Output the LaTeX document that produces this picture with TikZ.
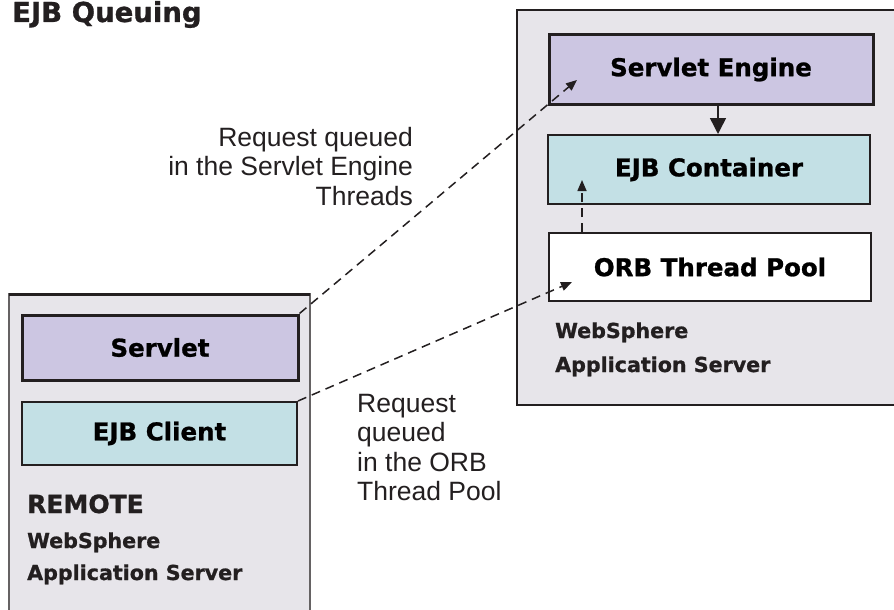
\documentclass[tikz,border=0pt]{standalone}
\usepackage{fontspec}
\setmainfont{Liberation Sans}
\newfontfamily\heavyfont[FakeBold=1]{DejaVu Sans Bold}
\usetikzlibrary{arrows.meta}

\definecolor{servergray}{HTML}{E7E5EA}
\definecolor{servletpurple}{HTML}{CCC6E2}
\definecolor{ejbcyan}{HTML}{C3E0E5}
\definecolor{inkgray}{HTML}{231F20}

\newcommand{\boxfont}{\heavyfont\fontsize{24.5}{24.5}\selectfont}
\newcommand{\smallbold}{\heavyfont\fontsize{20.6}{20.6}\selectfont}
\newcommand{\notefont}{\fontsize{26.5}{29.5}\selectfont}

\begin{document}
\begin{tikzpicture}[x=1pt,y=-1pt]

      \useasboundingbox (0,0) rectangle (894,610);

      % the two servers
      \begin{scope}
        \clip (0,0) rectangle (894,610);
        \fill[servergray] (9,294) rectangle (310,620);
        \draw[inkgray!70,line width=1.5pt] (9,620) -- (9,294) -- (310,294) -- (310,620);
        \draw[inkgray,line width=3pt] (9,294) -- (310,294);
        \draw[inkgray,line width=2pt,fill=servergray] (517,10) rectangle (900,405);
      \end{scope}

      \begin{scope}[every node/.style={rectangle,draw=inkgray,line width=2pt,font=\boxfont}]
        \node[fill=servletpurple,line width=3pt,minimum width=276pt,minimum height=65pt] (servlet) at (160,347.5) {Servlet};
        \node[fill=ejbcyan,minimum width=275pt,minimum height=63pt] (client) at (159.5,433.5) {EJB Client};
        \node[fill=servletpurple,line width=3pt,minimum width=324pt,minimum height=69pt] (engine) at (711,69.5) {Servlet Engine};
        \node[fill=ejbcyan,minimum width=322pt,minimum height=69pt] (container) at (709,169.5) {EJB Container};
        \node[fill=white,minimum width=322pt,minimum height=68pt] (orb) at (710,267) {ORB Thread Pool};
      \end{scope}

      \begin{scope}[every node/.style={anchor=base west,inner sep=0pt,text=inkgray}]
        \node[font=\heavyfont\fontsize{27.5}{27.5}\selectfont] (title) at (12,22) {EJB Queuing};
        \node[font=\heavyfont\fontsize{25}{25}\selectfont] (remote) at (27,513) {REMOTE};
        \node[font=\smallbold] (remote1) at (27,548) {WebSphere};
        \node[font=\smallbold] (remote2) at (27,580) {Application Server};
        \node[font=\smallbold] (local1) at (555,338) {WebSphere};
        \node[font=\smallbold] (local2) at (555,372) {Application Server};
      \end{scope}

      \node[anchor=north east,align=right,inner sep=0pt,font=\notefont,text=inkgray] (enginenote) at (413,127)
        {Request queued\\in the Servlet Engine\\Threads};
      \node[anchor=north west,align=left,inner sep=0pt,font=\notefont,text=inkgray] (orbnote) at (357,394)
        {Request\\queued\\in the ORB\\Thread Pool};

      \coordinate (enginein) at (577,80);
      \coordinate (orbin) at (572,282);
      \coordinate (containerin) at (582,180);

      \begin{scope}[every edge/.style={draw=inkgray,line width=1.5pt}]
        \path ([xshift=7pt]engine.south) edge[-{Triangle[length=16pt,width=16pt]}] ([xshift=9pt]container.north);

        \begin{scope}[every edge/.style={draw=inkgray,line width=1.5pt,dash pattern=on 9pt off 6pt,-{Triangle[length=11pt,width=9pt]}}]
          \path (servlet.north east) edge (enginein);
          \path (client.north east) edge (orbin);
          \path (orb.north -| containerin) edge (containerin);
        \end{scope}

      \end{scope}

    \end{tikzpicture}
\end{document}
